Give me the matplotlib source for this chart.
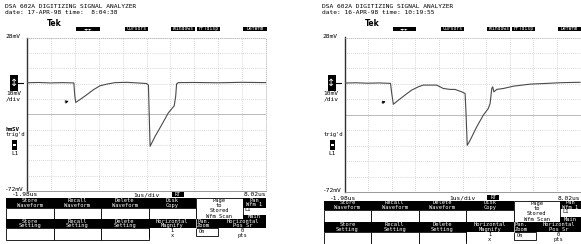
import numpy as np
import matplotlib
matplotlib.use("Agg")
import matplotlib.pyplot as plt
from matplotlib.patches import Rectangle

# trace readings (time in us, level in mV)
t_left = [-1.98, -1.5, -1.0, -0.5, -0.02, 0.02, 0.06, 0.22, 0.52, 0.79, 1.07, 1.35, 1.70, 2.19, 2.75,
          3.02, 3.10, 3.17, 3.38, 3.66, 3.93, 4.18, 4.24, 4.28, 4.35, 5.0, 6.0, 7.0, 8.02]
v_left = [-1.5, -1.3, -1.6, -1.4, -1.6, -10.0, -14.3, -12.6, -9.3, -6.1, -3.5, -2.4, -1.4, -1.2, -1.7,
          -2.0, -3.0, -42.9, -36.4, -28.8, -21.2, -16.5, -10.4, -2.2, -1.4, -1.3, -1.5, -1.2, -1.4]

t_right = [-1.98, -1.5, -1.0, -0.5, -0.03, 0.02, 0.09, 0.30, 0.58, 0.86, 1.15, 1.36, 1.64, 1.92, 2.21,
           2.49, 2.70, 2.99, 3.13, 3.17, 3.22, 3.34, 3.62, 3.90, 4.11, 4.19, 4.26, 4.30, 4.35, 4.47,
           4.75, 5.18, 5.88, 6.59, 7.29, 8.0]
v_right = [-1.5, -1.3, -1.6, -1.4, -1.7, -8.0, -15.2, -12.6, -9.3, -6.1, -3.9, -2.8, -2.8, -2.8, -5.0,
           -5.6, -5.6, -7.2, -8.2, -21.2, -41.8, -38.6, -29.9, -22.3, -18.0, -14.7, -5.0, -3.9, -7.2, -5.6,
           -5.0, -3.5, -2.2, -1.7, -1.2, -1.0]

dates = ["date: 17-APR-98 time:  8:04:38", "date: 16-APR-98 time: 10:19:55"]
top_buttons = ["\u25c4\u2500\u25ba", "Cursors", "Windows", "FFTdisp", "DefWfm"]
row1_labels = ["Store\nWaveform", "Recall\nWaveform", "Delete\nWaveform", "Disk\nCopy"]
row2_labels = ["Store\nSetting", "Recall\nSetting", "Delete\nSetting", "Horizontal\nMagnify"]
t_start, t_end = -1.98, 8.02
v_top, v_bottom = 28, -72
trig_level = -13.0

W, H = 581, 244
fig = plt.figure(figsize=(W / 100, H / 100), dpi=100)
fig.patch.set_facecolor("white")

# overlay in pixel coords for the screen furniture
ov = fig.add_axes([0, 0, 1, 1])
ov.set_xlim(0, W)
ov.set_ylim(H, 0)
ov.axis("off")

MONO = "DejaVu Sans Mono"
MS = 3.9  # menu font size


def txt(x, y, s, color="black", ha="left", size=4.6, weight="normal", family=MONO, va="center"):
    ov.text(x, y, s, color=color, ha=ha, va=va, fontsize=size, fontweight=weight,
            family=family, linespacing=0.9)


def box(x0, y0, x1, y1, fc="black", ec="none", lw=0.6):
    ov.add_patch(Rectangle((x0, y0), x1 - x0, y1 - y0, facecolor=fc, edgecolor=ec, linewidth=lw))


def panel(gx0, gx1, gy0, gy1, rows, date, t, v, extra_hold):
    w = gx1 - gx0
    # header
    txt(gx0 - 22, 6, "DSA 602A DIGITIZING SIGNAL ANALYZER", size=4.5)
    txt(gx0 - 22, 12.5, date, size=4.5)
    txt(gx0 + 20, 23.5, "Tek", size=5.5, weight="bold", family="DejaVu Sans")
    spans = [(0.205, 0.305), (0.41, 0.505), (0.603, 0.703), (0.71, 0.807), (0.904, 1.003)]
    for (a, b), lab in zip(spans, top_buttons):
        box(gx0 + a * w, 26.5, gx0 + b * w, 31)
        txt(gx0 + (a + b) / 2 * w, 28.8, lab, color="white", ha="center", size=3.4)

    # left side labels
    txt(gx0 - 22, 36, "28mV", size=4.5)
    box(gx0 - 17, 75, gx0 - 9, 91)
    txt(gx0 - 13, 83, "\u2195", color="white", ha="center", size=7, family="DejaVu Sans")
    ov.plot([gx0 - 9, gx0 - 4], [82.5, 82.5], color="black", lw=0.8)
    txt(gx0 - 21, 93.5, "10mV", size=4.5)
    txt(gx0 - 21, 99, "/div", size=4.5)
    if extra_hold:
        txt(gx0 - 22, 129.5, "hmSV", size=4.2, weight="bold")
    txt(gx0 - 21, 134.5, "trig'd", size=4.0)
    box(gx0 - 15, 140, gx0 - 10, 150)
    box(gx0 - 14, 143.5, gx0 - 11, 146, fc="white")
    txt(gx0 - 16, 153.5, "L1", size=4.3)

    # scale readouts under the graticule
    txt(gx0 - 22, gy1 - 1.5, "-72mV", size=4.5)
    txt(gx0 - 15, rows[0] - 3, "-1.98us", size=4.5)
    txt(gx0 + 0.5 * w, rows[0] - 3, "1us/div", ha="center", size=4.5)
    box(gx0 + 0.605 * w, rows[0] - 5.8, gx0 + 0.655 * w, rows[0] - 0.6)
    txt(gx0 + 0.63 * w, rows[0] - 3.2, "RT", color="white", ha="center", size=3.6)
    txt(gx1, rows[0] - 3, "8.02us", ha="right", size=4.5)

    # menu
    mx0 = gx0 - 21
    pg0 = gx0 + 169
    pg1 = gx0 + 215.5
    cw = (pg0 - mx0) / 4
    r0, r1, r2, r3, r4 = rows
    box(mx0, r0, pg0, r1)
    for i, lab in enumerate(row1_labels):
        cx = mx0 + (i + 0.5) * cw
        txt(cx, (r0 + r1) / 2, lab, color="white", ha="center", size=MS)
        box(mx0 + i * cw, r1, mx0 + (i + 1) * cw, r2, fc="white", ec="black")
    box(pg0, r0, pg1, r2, fc="white", ec="black")
    for k, s in enumerate(["Page", "to", "Stored", "Wfm Scan"]):
        txt((pg0 + pg1) / 2, r0 + 2.3 + k * (r2 - r0 - 5.2) / 3, s, ha="center", size=MS)
    box(pg1, r0, gx1, r1 - 0.5)
    txt((pg1 + gx1) / 2, (r0 + r1) / 2 - 0.3, "Pan\nWfm 1", color="white", ha="center", size=MS)
    txt(pg1 + 2, r1 + 1.8, "L1", size=MS)
    box(pg1, (r1 + r2) / 2 + 1, gx1, r2)
    txt((pg1 + gx1) / 2, (r1 + r2) / 2 + 3.3, "Main", color="white", ha="center", size=MS)

    box(mx0, r2, gx1, r3)
    for i, lab in enumerate(row2_labels):
        cx = mx0 + (i + 0.5) * cw
        txt(cx, (r2 + r3) / 2, lab, color="white", ha="center", size=MS)
        if i < 3:
            box(mx0 + i * cw, r3, mx0 + (i + 1) * cw, r4, fc="white", ec="black")
    ov.plot([mx0 + 3 * cw, mx0 + 3 * cw], [r3, r4 - 3], color="black", lw=0.6)
    ov.plot([pg0, pg0], [r2, r3], color="white", lw=0.5)
    txt(pg0 + 1, (r2 + r3) / 2, "Pan.\nZoom", color="white", size=MS)
    txt((pg0 + 23 + gx1) / 2, (r2 + r3) / 2, "Horizontal\nPos Sr", color="white", ha="center", size=MS)
    txt(mx0 + 3.5 * cw, r3 + 2.5, "1", ha="center", size=MS)
    txt(mx0 + 3.5 * cw, r3 + 7.5, "x", ha="center", size=MS)
    box(pg0, r3, pg0 + 22, r3 + 8, fc="white", ec="black")
    txt(pg0 + 3, r3 + 3.5, "On", size=MS)
    txt((pg0 + 23 + gx1) / 2, r3 + 3, "0", ha="center", size=MS)
    txt((pg0 + 23 + gx1) / 2, r3 + 8, "pts", ha="center", size=MS)

    # graticule + trace
    ax = fig.add_axes([gx0 / W, 1 - gy1 / H, w / W, (gy1 - gy0) / H])
    ax.patch.set_alpha(0)
    ax.plot(t, v, color="#4a4a4a", lw=0.8, zorder=3)
    ax.annotate("", xy=(-0.12, trig_level), xytext=(-0.5, trig_level - 1.5),
                arrowprops=dict(arrowstyle="->", color="black", lw=0.7, mutation_scale=4))
    ax.set_xlim(t_start, t_end)
    ax.set_ylim(v_bottom, v_top)
    ax.set_xticks(np.linspace(t_start, t_end, 11))
    ax.set_yticks(np.linspace(v_bottom, v_top, 11))
    ax.grid(True, color="#a8a8a8", lw=0.5, ls=(0, (0.8, 2.0)))
    ax.tick_params(length=0, labelbottom=False, labelleft=False)
    ax.axhline((v_top + v_bottom) / 2, color="#b4b4b4", lw=0.6, zorder=1)
    ax.spines["left"].set_color("#303030")
    ax.spines["left"].set_linewidth(1.0)
    ax.spines["bottom"].set_color("#888888")
    ax.spines["bottom"].set_linewidth(0.6)
    for s in ["top", "right"]:
        ax.spines[s].set_color("#a8a8a8")
        ax.spines[s].set_linewidth(0.5)
        ax.spines[s].set_linestyle((0, (0.8, 2.0)))


panel(27, 266, 37.5, 191, [198, 208, 219, 228, 240], dates[0], t_left, v_left, True)
panel(344.5, 580.5, 37.5, 192, [201, 209.5, 222, 232, 244], dates[1], t_right, v_right, False)

fig.savefig("out.png", dpi=100, facecolor="white")
